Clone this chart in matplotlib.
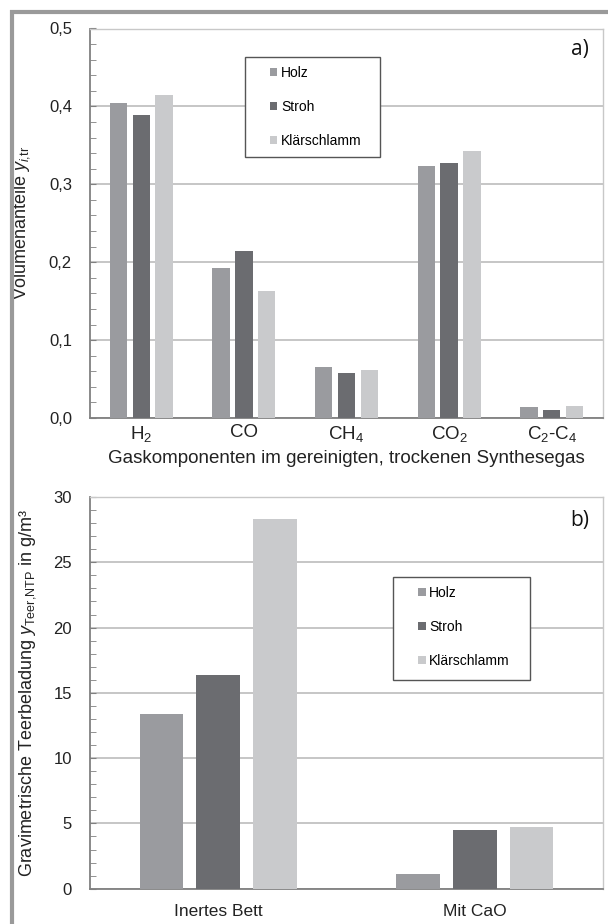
import matplotlib
matplotlib.use("Agg")
import matplotlib.pyplot as plt
import numpy as np
from matplotlib.lines import Line2D
from matplotlib.patches import Rectangle
from matplotlib.ticker import MultipleLocator

plt.rcParams['font.family'] = ['Liberation Sans', 'DejaVu Sans']
plt.rcParams['mathtext.fontset'] = 'custom'
plt.rcParams['mathtext.rm'] = 'Liberation Sans'
plt.rcParams['mathtext.it'] = 'Liberation Sans:italic'

# ---- data ----
series = ['Holz', 'Stroh', 'Klärschlamm']
colors = ['#9a9b9f', '#6b6c70', '#c9cacc']

gas_labels = ['$\\mathregular{H_2}$', 'CO', '$\\mathregular{CH_4}$',
              '$\\mathregular{CO_2}$', '$\\mathregular{C_2}$-$\\mathregular{C_4}$']
holz_gas = [0.404, 0.193, 0.066, 0.323, 0.014]
stroh_gas = [0.389, 0.215, 0.058, 0.327, 0.010]
klaer_gas = [0.415, 0.163, 0.061, 0.343, 0.015]

bed_labels = ['Inertes Bett', 'Mit CaO']
holz_teer = [13.4, 1.1]
stroh_teer = [16.4, 4.5]
klaer_teer = [28.3, 4.75]

W, H = 608, 924
fig = plt.figure(figsize=(W / 100, H / 100), dpi=100)

grid_c = '#c2c2c2'
spine_c = '#808080'
txt_c = '#222222'

def ax_rect(l, r, t, b):
    return [l / W, 1 - b / H, (r - l) / W, (b - t) / H]

def style(ax, ymax, major, minor, fmt):
    ax.set_ylim(0, ymax)
    ax.yaxis.set_major_locator(MultipleLocator(major))
    ax.yaxis.set_minor_locator(MultipleLocator(minor))
    ax.set_axisbelow(True)
    ax.yaxis.grid(True, which='major', color=grid_c, lw=1.3)
    for s in ['left', 'bottom']:
        ax.spines[s].set_color(spine_c)
        ax.spines[s].set_linewidth(1.3)
    for s in ['top', 'right']:
        ax.spines[s].set_color('#c8c8c8')
        ax.spines[s].set_linewidth(1.0)
    ax.tick_params(axis='y', which='both', direction='in', color=spine_c,
                   labelsize=12, pad=13, labelcolor=txt_c)
    ax.tick_params(axis='y', which='major', length=4)
    ax.tick_params(axis='y', which='minor', length=4)
    ax.tick_params(axis='x', length=0, labelcolor=txt_c)
    ax.yaxis.set_major_formatter(matplotlib.ticker.FuncFormatter(fmt))

def add_legend(ax, x0, y0, w, h):
    rect = Rectangle((x0, y0 - h), w, h, transform=ax.transAxes,
                     facecolor='white', edgecolor='#555555', lw=1.0, zorder=4)
    ax.add_patch(rect)
    leg = ax.legend(loc='upper left', bbox_to_anchor=(x0 + 0.035, y0 - 0.005),
                    frameon=False, fontsize=10, handlelength=0.55,
                    handleheight=0.55, handletextpad=0.25, labelspacing=1.45,
                    borderpad=0.5, borderaxespad=0)
    leg.set_zorder(5)

# ---- top panel ----
ax1 = fig.add_axes(ax_rect(90, 603, 28.5, 418))
x = np.arange(len(gas_labels))
bw, step = 0.17, 0.222
for i, (vals, c, lab) in enumerate(zip([holz_gas, stroh_gas, klaer_gas], colors, series)):
    ax1.bar(x + (i - 1) * step, vals, width=bw, color=c, label=lab, zorder=3)
ax1.set_xlim(-0.5, len(gas_labels) - 0.5)
style(ax1, 0.5, 0.1, 0.02, lambda v, p: f'{v:.1f}'.replace('.', ','))
ax1.set_xticks(x)
ax1.set_xticklabels(gas_labels, fontsize=13.5)
ax1.tick_params(axis='x', pad=4)
ax1.set_xlabel('Gaskomponenten im gereinigten, trockenen Synthesegas',
               fontsize=13.5, color=txt_c, labelpad=5)
ax1.set_ylabel('Volumenanteile $y_{i,\\!\\mathrm{tr}}$', fontsize=13, color=txt_c)
ax1.yaxis.set_label_coords(-0.113, 0.5)
add_legend(ax1, 0.302, 0.927, 0.263, 0.257)
ax1.text(0.955, 0.945, 'a)', transform=ax1.transAxes, fontsize=15,
         family='Open Sans', ha='center', va='center', color='#111111')

# ---- bottom panel ----
ax2 = fig.add_axes(ax_rect(90, 603, 497, 888.7))
x2 = np.arange(len(bed_labels))
for i, (vals, c, lab) in enumerate(zip([holz_teer, stroh_teer, klaer_teer], colors, series)):
    ax2.bar(x2 + (i - 1) * step, vals, width=bw, color=c, label=lab, zorder=3)
ax2.set_xlim(-0.5, len(bed_labels) - 0.5)
style(ax2, 30, 5, 1, lambda v, p: f'{v:.0f}')
ax2.set_xticks(x2)
ax2.set_xticklabels(bed_labels, fontsize=12.5)
ax2.tick_params(axis='x', pad=11)
ax2.set_ylabel('Gravimetrische Teerbeladung $y_{\\mathrm{Teer,\\!NTP}}$ in g/m³',
               fontsize=13, color=txt_c)
ax2.yaxis.set_label_coords(-0.102, 0.5)
add_legend(ax2, 0.591, 0.796, 0.267, 0.263)
ax2.text(0.955, 0.941, 'b)', transform=ax2.transAxes, fontsize=15,
         family='Open Sans', ha='center', va='center', color='#111111')

# ---- outer frame (left and top) ----
fc = '#9a9a9a'
fig.add_artist(Line2D([11.5 / W, 11.5 / W], [0, 1 - 9.5 / H], color=fc, lw=3,
                      transform=fig.transFigure, solid_capstyle='butt'))
fig.add_artist(Line2D([10 / W, 1], [1 - 11.5 / H, 1 - 11.5 / H], color=fc, lw=3,
                      transform=fig.transFigure, solid_capstyle='butt'))

fig.savefig('out.png', dpi=100, facecolor='white')
